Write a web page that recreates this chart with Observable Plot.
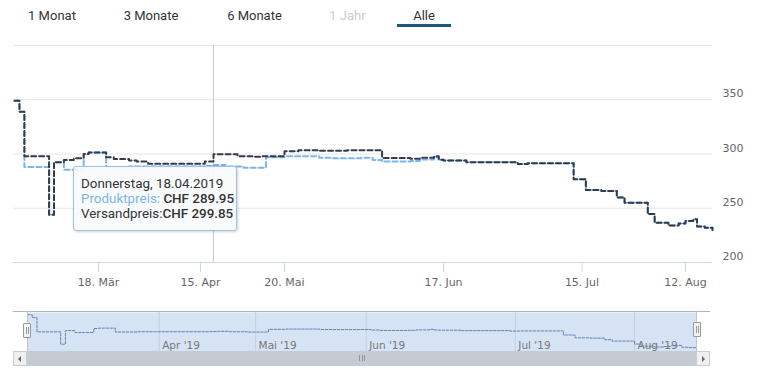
<!DOCTYPE html>
<html><head><meta charset="utf-8">
<script src="https://cdn.jsdelivr.net/npm/d3@7"></script>
<script src="https://cdn.jsdelivr.net/npm/@observablehq/plot@0.6"></script>
<style>
html,body{margin:0;padding:0;background:#fff;}
#wrap{position:relative;width:760px;height:378px;overflow:hidden;font-family:Roboto,sans-serif;}
#wrap svg{position:absolute;left:0;}
.btn{position:absolute;top:7.5px;font-size:13px;line-height:16px;color:#333;white-space:nowrap;transform:translateX(-50%);}
.btn.off{color:#cccccc;}
#uline{position:absolute;left:397px;top:24px;width:54px;height:2.5px;background:#1f5876;}
#tip{position:absolute;left:73px;top:166px;width:164px;height:65px;box-sizing:border-box;padding:8.5px 7px;
 background:rgba(249,250,252,0.93);border:1px solid #9fc0e6;border-radius:3px;box-shadow:1px 1px 3px rgba(0,0,0,0.18);
 font-family:Roboto,sans-serif;font-size:13.4px;line-height:15px;color:#333;white-space:nowrap;z-index:5;}
#tip b{font-weight:500;}
.abs{position:absolute;box-sizing:border-box;}
</style></head><body><div id="wrap"></div>
<script>
// ---- data ----
const dates = ["2019-03-01","2019-03-02","2019-03-03","2019-03-08","2019-03-09","2019-03-11","2019-03-13","2019-03-15","2019-03-16","2019-03-20","2019-03-22","2019-03-26","2019-03-28","2019-03-31","2019-04-16","2019-04-18","2019-04-22","2019-04-26","2019-04-28","2019-05-01","2019-05-07","2019-05-09","2019-05-20","2019-05-22","2019-05-25","2019-05-27","2019-05-29","2019-05-31","2019-06-02","2019-06-04","2019-06-10","2019-06-12","2019-06-15","2019-06-16","2019-06-17","2019-06-21","2019-06-30","2019-07-02","2019-07-13","2019-07-16","2019-07-20","2019-07-24","2019-07-26","2019-08-01","2019-08-03","2019-08-07","2019-08-10","2019-08-12","2019-08-14","2019-08-15","2019-08-17","2019-08-19"];
const versandpreis = [349,339,298,244,292.5,294.5,296,300,301.3,297,295.5,294,293,291,293,299.85,299.85,298,298,297.5,298,298,302.5,303.5,303,303,303.5,303.5,303.5,296.3,295.7,296.5,298,294.8,293.9,292.3,290.8,291.5,276.8,266.8,265.8,260,255,244.6,236.6,234,236,238.3,239.8,233.2,232,230];
const produktpreis = [349,339,288,244,292.5,285.5,285.5,300,301.3,287.5,287.5,288.5,288.5,288.5,289,289.95,288.5,288.5,287.3,287.3,287.3,297,298,298,296.5,296,296,296.5,294.5,293,293.5,295,297,294.8,293.9,292.3,290.8,291.5,276.8,266.8,265.8,260,255,244.6,236.6,234,236,238.3,239.8,233.2,232,230];

const xTickDates = ["2019-03-18","2019-04-15","2019-05-20","2019-06-17","2019-07-15","2019-08-12"];
const xTickLabels = ["18. Mär","15. Apr","20. Mai","17. Jun","15. Jul","12. Aug"];
const yTicks = [200, 250, 300, 350];
const yGrid = [250, 300, 350, 400];
const navMonths = ["2019-04-01","2019-05-01","2019-06-01","2019-07-01","2019-08-01"];
const navLabels = ["Apr '19","Mai '19","Jun '19","Jul '19","Aug '19"];
const buttonLabels = ["1 Monat","3 Monate","6 Monate","1 Jahr","Alle"];
const tooltipDate = "2019-04-18";
const weekdaysDe = ["Sonntag","Montag","Dienstag","Mittwoch","Donnerstag","Freitag","Samstag"];

// ---- ordinal-like (piecewise) time axis, as in the stock chart ----
const xBreakDates = ["2019-03-01","2019-03-18","2019-04-01","2019-04-15","2019-04-18","2019-05-01","2019-05-20","2019-06-01","2019-06-17","2019-07-01","2019-07-15","2019-08-01","2019-08-12","2019-08-19"];
const xBreakPx = [14, 98, 151.4, 200, 213, 252, 284, 367.4, 443, 523, 581.5, 647.3, 685, 712];

const parse = d3.utcParse("%Y-%m-%d");
const rows = dates.map((d, i) => ({date: parse(d), versand: versandpreis[i], produkt: produktpreis[i]}));
const breaks = xBreakDates.map(parse);
const ticks = xTickDates.map(parse);
const wrap = document.getElementById("wrap");

// buttons
const btnCenters = [52, 151, 254.5, 347.5, 424];
buttonLabels.forEach((t, i) => {
  const b = document.createElement("div");
  b.className = "btn" + (t === "1 Jahr" ? " off" : "");
  b.style.left = btnCenters[i] + "px";
  b.textContent = t;
  wrap.appendChild(b);
});
const ul = document.createElement("div"); ul.id = "uline"; wrap.appendChild(ul);

const darkCol = "#323c4b", blueCol = "#7cb5ec";
const crossDate = parse(tooltipDate);

const main = Plot.plot({
  width: 760, height: 300,
  marginLeft: 13, marginRight: 48, marginTop: 45, marginBottom: 38,
  style: {fontFamily: "'DejaVu Sans', sans-serif", fontSize: "11px", background: "transparent"},
  x: {type: "utc", domain: breaks, range: xBreakPx, label: null},
  y: {domain: [200, 400], range: [262, 45], label: null},
  marks: [
    Plot.gridY(yGrid, {stroke: "#e6e6e6", strokeOpacity: 1}),
    Plot.ruleX([crossDate], {stroke: "#cccccc", strokeWidth: 1}),
    Plot.ruleY([200], {stroke: "#ccd6eb"}),
    Plot.axisX({ticks: ticks, tickFormat: d => xTickLabels[ticks.findIndex(t => +t === +d)], tickSize: 10, tickPadding: 6, stroke: "#ccd6eb", fill: "#666666", label: null}),
    Plot.axisY({anchor: "right", ticks: yTicks, tickSize: 0, tickPadding: 10, fill: "#666666", dy: -6, textAnchor: "start", label: null}),
    Plot.line(rows, {x: "date", y: "produkt", curve: "step-after", stroke: blueCol, strokeWidth: 2, strokeDasharray: "5,3"}),
    Plot.line(rows, {x: "date", y: "versand", curve: "step-after", stroke: darkCol, strokeWidth: 2, strokeDasharray: "5,3"})
  ]
});
main.style.top = "0px";
wrap.appendChild(main);

// navigator
const navLeft = 27, navRight = 696;
const navPx = xBreakPx.map(p => navLeft + (p - xBreakPx[0]) * (navRight - navLeft) / (xBreakPx[xBreakPx.length - 1] - xBreakPx[0]));
const navTicks = navMonths.map((m, i) => ({date: parse(m), label: navLabels[i]}));
const nav = Plot.plot({
  width: 760, height: 78,
  marginLeft: navLeft, marginRight: 760 - navRight, marginTop: 12, marginBottom: 27,
  style: {fontFamily: "'DejaVu Sans', sans-serif", fontSize: "10.5px", background: "transparent"},
  x: {type: "utc", domain: breaks, range: navPx, axis: null, label: null},
  y: {domain: [218, 357], axis: null, label: null},
  marks: [
    Plot.frame({fill: "#d6e3f4", stroke: null}),
    Plot.ruleX(navTicks, {x: "date", stroke: "#c3cfe2"}),
    Plot.text(navTicks, {x: "date", text: "label", frameAnchor: "bottom", lineAnchor: "bottom", textAnchor: "start", dx: 3, dy: -3, fill: "#777777"}),
    Plot.line(rows, {x: "date", y: "produkt", curve: "step-after", stroke: "#6682b0", strokeWidth: 1, strokeDasharray: "2.5,1.5"})
  ]
});
nav.style.top = "300px";
wrap.appendChild(nav);

// navigator / scrollbar chrome
function box(css) { const d = document.createElement("div"); d.className = "abs"; Object.assign(d.style, css); wrap.appendChild(d); return d; }
box({left: "13px", top: "311px", width: "697px", height: "1px", background: "#b3b3b3"});
box({left: "26.5px", top: "311px", width: "1px", height: "40px", background: "#c4c4c4"});
box({left: "695.5px", top: "311px", width: "1px", height: "40px", background: "#c4c4c4"});
// scrollbar
box({left: "13px", top: "351px", width: "697px", height: "15px", background: "#f2f2f2", border: "1px solid #cccccc"});
box({left: "27px", top: "351px", width: "669px", height: "15px", background: "#c5cbd2"});
box({left: "13px", top: "351px", width: "14px", height: "15px", background: "#efefef", border: "1px solid #cccccc"});
box({left: "696px", top: "351px", width: "14px", height: "15px", background: "#efefef", border: "1px solid #cccccc"});
box({left: "18px", top: "355.5px", width: "0", height: "0", borderTop: "3px solid transparent", borderBottom: "3px solid transparent", borderRight: "3px solid #666"});
box({left: "702px", top: "355.5px", width: "0", height: "0", borderTop: "3px solid transparent", borderBottom: "3px solid transparent", borderLeft: "3px solid #666"});
[359, 361.5, 364].forEach(x => box({left: x + "px", top: "355px", width: "1px", height: "6px", background: "#8f959c"}));
// handles
[[23, 323], [692.5, 322]].forEach(([x, y]) => {
  box({left: x + "px", top: y + "px", width: "8px", height: "15px", background: "#f2f2f2", border: "1px solid #999999", borderRadius: "1px"});
  box({left: (x + 3) + "px", top: (y + 4) + "px", width: "1px", height: "7px", background: "#999999"});
  box({left: (x + 5) + "px", top: (y + 4) + "px", width: "1px", height: "7px", background: "#999999"});
});

// tooltip
const ti = dates.indexOf(tooltipDate);
const td = parse(tooltipDate);
const tip = document.createElement("div");
tip.id = "tip";
tip.innerHTML = `${weekdaysDe[td.getUTCDay()]}, ${d3.utcFormat("%d.%m.%Y")(td)}<br>` +
  `<span style="color:${blueCol}">Produktpreis:</span> <b>CHF ${produktpreis[ti].toFixed(2)}</b><br>` +
  `<span>Versandpreis:</span><b>CHF ${versandpreis[ti].toFixed(2)}</b>`;
wrap.appendChild(tip);
</script></body></html>
